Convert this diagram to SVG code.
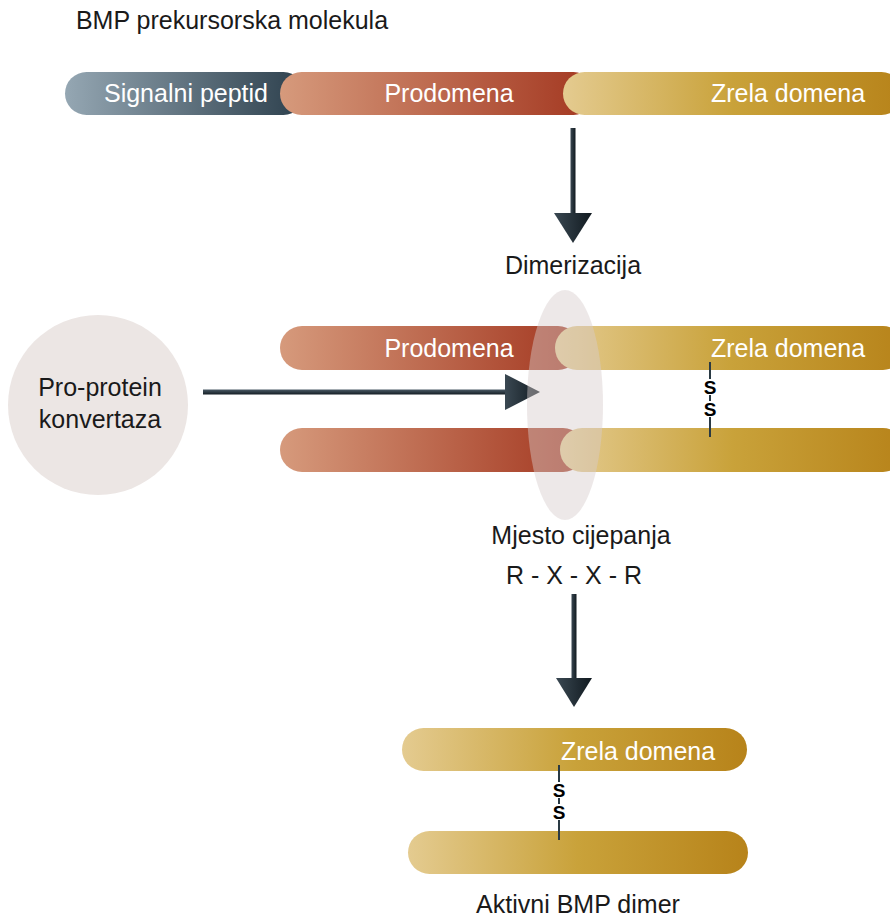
<svg xmlns="http://www.w3.org/2000/svg" width="890" height="919" viewBox="0 0 890 919">
<defs>
<linearGradient id="gSig" x1="0" x2="1" y1="0" y2="0"><stop offset="0" stop-color="#95a7b3"/><stop offset="1" stop-color="#2c3f4c"/></linearGradient>
<linearGradient id="gPro" x1="0" x2="1" y1="0" y2="0"><stop offset="0" stop-color="#d69a7c"/><stop offset="1" stop-color="#a33720"/></linearGradient>
<linearGradient id="gZr" x1="0" x2="1" y1="0" y2="0"><stop offset="0" stop-color="#e4cb90"/><stop offset="0.5" stop-color="#c9a23a"/><stop offset="1" stop-color="#b7831a"/></linearGradient>
<linearGradient id="gArr" x1="0" x2="1" y1="0" y2="0"><stop offset="0" stop-color="#3a4852"/><stop offset="1" stop-color="#111a20"/></linearGradient>
<linearGradient id="gArrH" x1="0" x2="0" y1="0" y2="1"><stop offset="0" stop-color="#4a5a66"/><stop offset="1" stop-color="#141d24"/></linearGradient>
</defs>
<style>
text{font-family:"Liberation Sans","Open Sans",sans-serif;}
.lbl{font-size:25px;fill:#1a1a1a;text-anchor:middle;}
.in{font-size:25px;fill:#ffffff;text-anchor:middle;}
.ss{font-size:19px;font-weight:bold;fill:#000;text-anchor:middle;}
.bond{stroke:#2a3a44;stroke-width:2;fill:none;}
</style>

<g id="title"><text class="lbl" x="232" y="29">BMP prekursorska molekula</text></g>

<g id="precursor">
<rect x="65" y="72" width="240" height="43" rx="21.5" fill="url(#gSig)"/>
<rect x="280" y="72" width="315" height="43" rx="21.5" fill="url(#gPro)"/>
<rect x="563" y="72" width="340" height="43" rx="21.5" fill="url(#gZr)"/>
<text class="in" x="186" y="102">Signalni peptid</text>
<text class="in" x="449" y="102">Prodomena</text>
<text class="in" x="788" y="102">Zrela domena</text>
</g>

<g id="connectors">
<rect x="570.5" y="128" width="5" height="88" fill="url(#gArr)"/>
<polygon points="554,213 592,213 573,243" fill="url(#gArr)"/>
<rect x="203" y="389.5" width="305" height="5" fill="url(#gArrH)"/>
<polygon points="505,374 540,392 505,410" fill="url(#gArr)"/>
<rect x="571.5" y="594" width="5" height="88" fill="url(#gArr)"/>
<polygon points="556,678 592,678 574,707" fill="url(#gArr)"/>
</g>

<g id="dimerizacija"><text class="lbl" x="573" y="274">Dimerizacija</text></g>

<g id="convertase">
<circle cx="98" cy="405" r="90" fill="#ece6e4"/>
<text class="lbl" x="100" y="396">Pro-protein</text>
<text class="lbl" x="100" y="428">konvertaza</text>
</g>

<g id="dimer">
<rect x="280" y="326" width="300" height="44" rx="22" fill="url(#gPro)"/>
<rect x="555" y="326" width="350" height="44" rx="22" fill="url(#gZr)"/>
<rect x="280" y="428" width="305" height="44" rx="22" fill="url(#gPro)"/>
<rect x="560" y="428" width="345" height="44" rx="22" fill="url(#gZr)"/>
<text class="in" x="449" y="357">Prodomena</text>
<text class="in" x="788" y="357">Zrela domena</text>
<path class="bond" d="M710 362V379M710 395V401M710 417V437"/>
<text class="ss" x="710" y="394">S<tspan x="710" dy="22">S</tspan></text>
</g>

<g id="cleavage">
<ellipse cx="565" cy="405" rx="38" ry="115" fill="#d8cccb" fill-opacity="0.45"/>
<text class="lbl" x="581" y="544">Mjesto cijepanja</text>
<text class="lbl" x="574" y="584">R - X - X - R</text>
</g>

<g id="active">
<rect x="402" y="728" width="345" height="43" rx="21.5" fill="url(#gZr)"/>
<rect x="408" y="831" width="340" height="43" rx="21.5" fill="url(#gZr)"/>
<text class="in" x="638" y="760">Zrela domena</text>
<path class="bond" d="M559 765V782M559 798V804M559 820V840"/>
<text class="ss" x="559" y="797">S<tspan x="559" dy="22">S</tspan></text>
<text class="lbl" x="578" y="913">Aktivni BMP dimer</text>
</g>
</svg>
